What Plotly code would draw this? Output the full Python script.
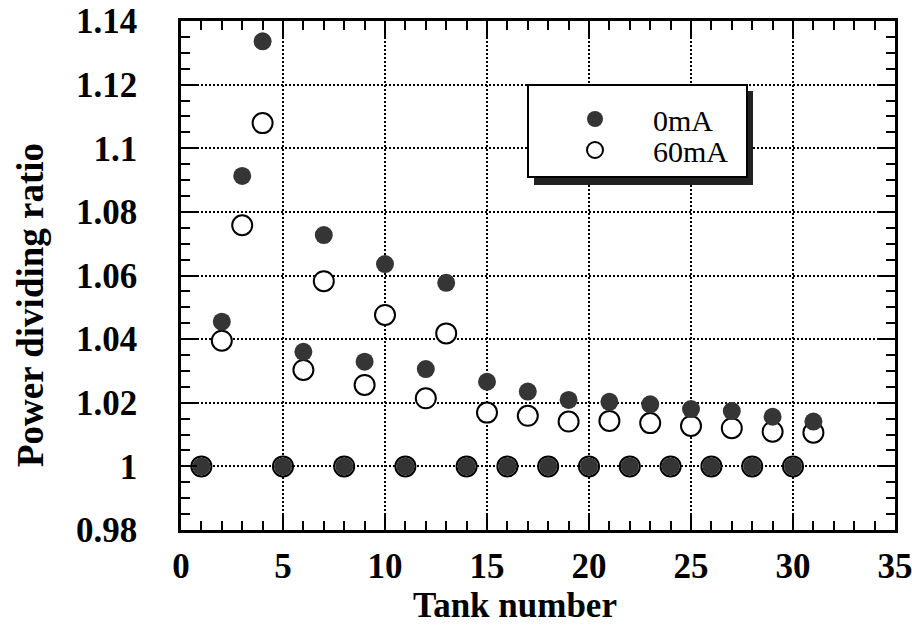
import plotly.graph_objects as go

# Power dividing ratio per tank, beam current 0 mA and 60 mA
tank = list(range(1, 32))
ratio_0mA = [1.000, 1.0455, 1.0913, 1.1336, 1.000, 1.0360, 1.0727, 1.000, 1.0329, 1.0636,
             1.000, 1.0306, 1.0577, 1.000, 1.0266, 1.000, 1.0235, 1.000, 1.0209, 1.000,
             1.0203, 1.000, 1.0195, 1.000, 1.0180, 1.000, 1.0174, 1.000, 1.0156, 1.000,
             1.0141]
ratio_60mA = [1.000, 1.0395, 1.0758, 1.1079, 1.000, 1.0303, 1.0582, 1.000, 1.0256, 1.0476,
              1.000, 1.0214, 1.0418, 1.000, 1.0169, 1.000, 1.0159, 1.000, 1.0141, 1.000,
              1.0143, 1.000, 1.0136, 1.000, 1.0127, 1.000, 1.0120, 1.000, 1.0109, 1.000,
              1.0106]

y_tickvals = [0.98, 1.00, 1.02, 1.04, 1.06, 1.08, 1.10, 1.12, 1.14]
y_ticktext = ["0.98", "1", "1.02", "1.04", "1.06", "1.08", "1.1", "1.12", "1.14"]
x_tickvals = [0, 5, 10, 15, 20, 25, 30, 35]
x_ticktext = ["0", "5", "10", "15", "20", "25", "30", "35"]
x_range = [0, 35]
y_range = [0.98, 1.14]

SERIF = "Liberation Serif"
W, H = 912, 633
L, R, T, B = 181, 17, 21, 103
PW, PH = W - L - R, H - T - B


def px(xp):
    return (xp - L) / PW


def py(yp):
    return (H - B - yp) / PH


fig = go.Figure()
fig.add_trace(go.Scatter(
    x=tank, y=ratio_60mA, mode="markers", name="60mA", legend="legend2",
    marker=dict(symbol="circle", size=20, color="white",
                line=dict(color="black", width=2)),
))
fig.add_trace(go.Scatter(
    x=tank, y=ratio_0mA, mode="markers", name="0mA", legend="legend",
    marker=dict(symbol="circle", size=18, color="#353535",
                line=dict(color="#353535", width=0)),
))
# empty trace that brings the top/right tick axes into being
fig.add_trace(go.Scatter(
    x=[], y=[], xaxis="x2", yaxis="y2", mode="markers",
    showlegend=False, hoverinfo="skip",
))

tick_style = dict(ticks="inside", ticklen=16, tickwidth=2, tickcolor="black")
minor_style = dict(ticks="inside", ticklen=9, tickwidth=2, tickcolor="black",
                   showgrid=False)
label_font = dict(family=SERIF, size=35, color="black", weight="bold")

fig.update_layout(
    xaxis=dict(
        range=x_range, tickvals=x_tickvals, ticktext=x_ticktext,
        showline=True, linecolor="black", linewidth=2.5, mirror=True,
        showgrid=True, gridcolor="black", gridwidth=2, griddash="2px,2px",
        zeroline=False, automargin=False, ticklabelstandoff=3,
        ticklabeloverflow="allow", tickfont=label_font,
        minor=dict(dtick=1, tick0=0, **minor_style), **tick_style,
    ),
    yaxis=dict(
        range=y_range, tickvals=y_tickvals, ticktext=y_ticktext,
        showline=True, linecolor="black", linewidth=2.5, mirror=True,
        showgrid=True, gridcolor="black", gridwidth=2, griddash="2px,2px",
        zeroline=False, automargin=False, ticklabelstandoff=34,
        ticklabeloverflow="allow", tickfont=label_font,
        minor=dict(dtick=0.005, tick0=0.98, **minor_style), **tick_style,
    ),
    # tick marks repeated along the top and right frame edges
    xaxis2=dict(
        range=x_range, tickvals=x_tickvals, overlaying="x", side="top",
        anchor="y2", showticklabels=False, showgrid=False, zeroline=False,
        showline=False, automargin=False,
        minor=dict(dtick=1, tick0=0, **minor_style), **tick_style,
    ),
    yaxis2=dict(
        range=y_range, tickvals=y_tickvals, overlaying="y", side="right",
        anchor="x2", showticklabels=False, showgrid=False, zeroline=False,
        showline=False, automargin=False,
        minor=dict(dtick=0.005, tick0=0.98, **minor_style), **tick_style,
    ),
)

annotations = [
    dict(text="Tank number", xref="paper", yref="paper", x=px(515), y=py(605),
         xanchor="center", yanchor="middle", showarrow=False,
         font=dict(family=SERIF, size=35, color="black", weight="bold")),
    dict(text="Power dividing ratio", xref="paper", yref="paper", x=px(30), y=py(305),
         xanchor="center", yanchor="middle", showarrow=False, textangle=-90,
         font=dict(family=SERIF, size=37, color="black", weight="bold")),
]

# legend frame with a drop shadow
shapes = [
    dict(type="rect", xref="paper", yref="paper", layer="above",
         x0=px(534), x1=px(753), y0=py(185), y1=py(91),
         fillcolor="#222222", line=dict(width=0)),
    dict(type="rect", xref="paper", yref="paper", layer="above",
         x0=px(528), x1=px(747), y0=py(177), y1=py(85),
         fillcolor="white", line=dict(color="black", width=2)),
]

legend_common = dict(
    xanchor="left", yanchor="top", bgcolor="rgba(0,0,0,0)", borderwidth=0,
    itemwidth=106, font=dict(family=SERIF, size=30, color="black"),
)

fig.update_layout(
    width=W, height=H,
    margin=dict(l=L, r=R, t=T, b=B, pad=0, autoexpand=False),
    paper_bgcolor="white", plot_bgcolor="white",
    shapes=shapes, annotations=annotations,
    showlegend=True,
    legend=dict(x=px(537), y=py(93), **legend_common),
    legend2=dict(x=px(537), y=py(124), **legend_common),
)

fig.write_html("out.html")
